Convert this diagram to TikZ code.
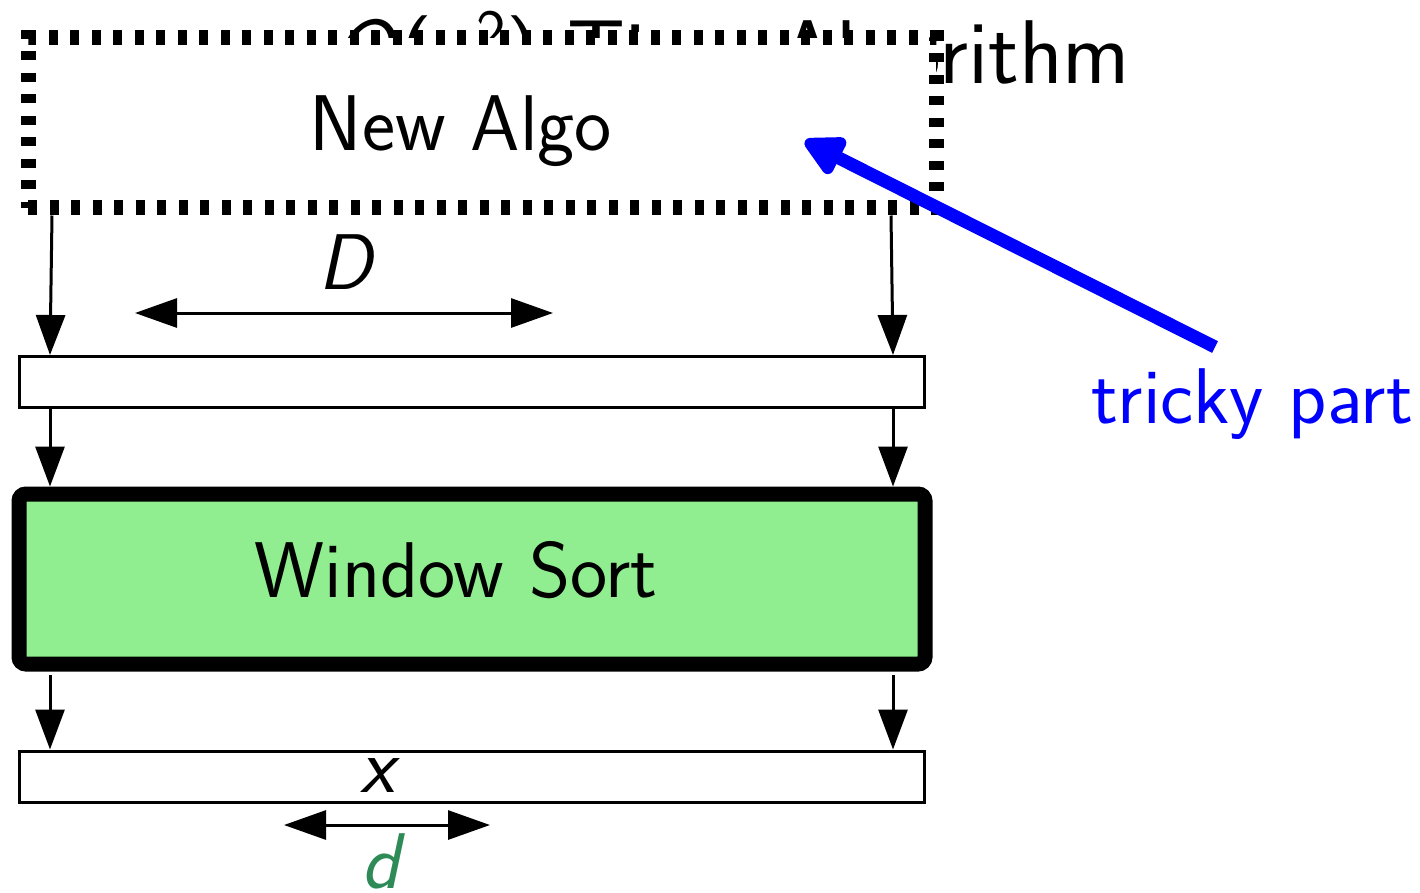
\documentclass[tikz,border=0pt]{standalone}
\usetikzlibrary{arrows.meta,calc}
\definecolor{boxgreen}{RGB}{144,238,144}
\definecolor{dgreen}{RGB}{46,139,87}
\begin{document}
\begin{tikzpicture}[x=1pt,y=-1pt,
  every node/.style={outer sep=0pt},
  lbl/.style={font=\sffamily\fontsize{79}{84}\selectfont, inner sep=0pt, anchor=base},
  band/.style={draw, line width=3pt, minimum width=905pt, minimum height=51pt, inner sep=0pt},
  flow/.style={line width=3pt, -{Triangle[length=40pt,width=29pt]}},
  span/.style={line width=3pt, {Triangle[length=42pt,width=29pt]}-{Triangle[length=42pt,width=29pt]}},
  hint/.style={line width=13pt, blue, -{Triangle[length=46pt,width=44pt,round]}}
]
\useasboundingbox (0,0) rectangle (1420,892);

% heading, mostly covered by the dotted box
\node[anchor=base west, inner sep=0pt, font=\sffamily\fontsize{90.5}{96}\selectfont] (title) at (331,83)
  {\textit{O}(\textit{n}\raisebox{30pt}{\fontsize{63}{63}\selectfont 2}) Time Algorithm};

% dotted box of the new algorithm
\node[draw, line width=15pt, dash pattern=on 9pt off 12.5pt, fill=white,
      minimum width=908pt, minimum height=170pt, inner sep=0pt] (algo) at (482,122.5) {};
\node[lbl] (algotxt) at (461,150) {New Algo};

% input band
\node[band] (box1) at (472,382) {};

% window sort
\node[draw, line width=15pt, rounded corners=7pt, fill=boxgreen,
      minimum width=906pt, minimum height=170pt, inner sep=0pt] (sort) at (472,579) {};
\node[lbl] (sorttxt) at (456,597) {Window Sort};

% output band
\node[band] (box2) at (472,776.5) {};
\node[lbl] (xlab) at (380,792) {\textit{x}};

% flow arrows
\draw[flow] ([xshift=24pt,yshift=-8pt]algo.south west) -- ([xshift=30.5pt,yshift=1.5pt]box1.north west);
\draw[flow] ([xshift=-45pt,yshift=-8pt]algo.south east) -- ([xshift=-31.5pt,yshift=1.5pt]box1.north east);
\draw[flow] ([xshift=30.5pt,yshift=-1.5pt]box1.south west) -- ([xshift=31pt,yshift=7.5pt]sort.north west);
\draw[flow] ([xshift=-31.5pt,yshift=-1.5pt]box1.south east) -- ([xshift=-32pt,yshift=7.5pt]sort.north east);
\draw[flow] ([xshift=31pt,yshift=-11pt]sort.south west) -- ([xshift=30.5pt,yshift=1.5pt]box2.north west);
\draw[flow] ([xshift=-32pt,yshift=-11pt]sort.south east) -- ([xshift=-31.5pt,yshift=1.5pt]box2.north east);

% window width D
\coordinate (Dl) at (135,313);
\coordinate (Dr) at (553,313);
\draw[span] (Dl) -- (Dr);
\node[lbl] (Dlab) at (348,289) {\textit{D}};

% displacement d
\coordinate (dl) at (284,825);
\coordinate (dr) at (490,825);
\draw[span] (dl) -- (dr);
\node[lbl, text=dgreen] (dlab) at (383,888) {\textit{d}};

% tricky part
\node[lbl, anchor=base west, text=blue] (tricky) at (1091,423) {tricky part};
\coordinate (tail) at (1215,347);
\coordinate (tip) at (805,141);
\draw[hint] (tail) -- (tip);
\end{tikzpicture}
\end{document}
